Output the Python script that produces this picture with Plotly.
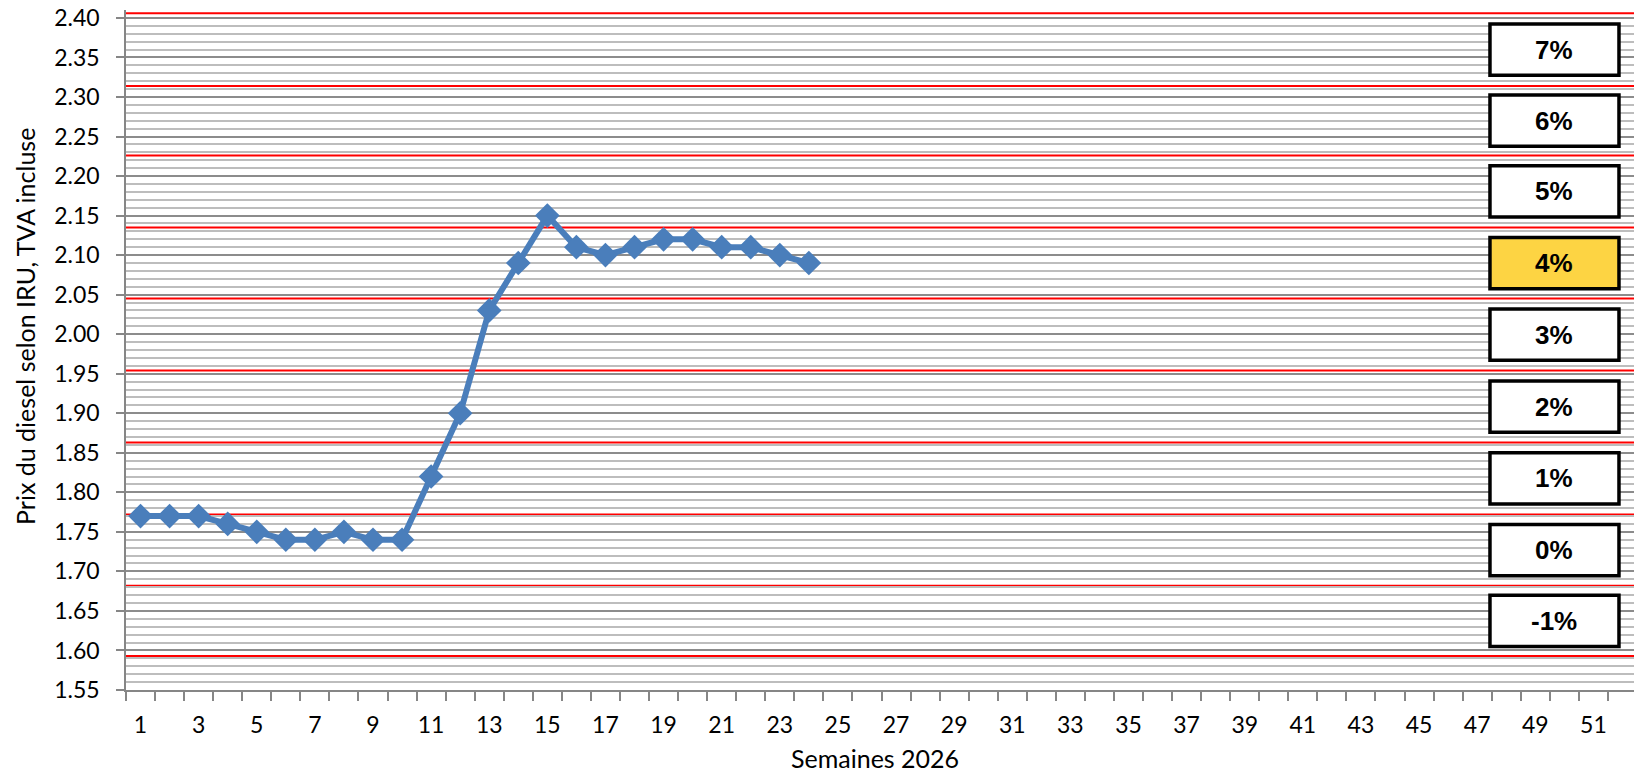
import plotly.graph_objects as go

# ---- data ----
weeks = list(range(1, 25))
prices = [1.77, 1.77, 1.77, 1.76, 1.75, 1.74, 1.74, 1.75, 1.74, 1.74,
          1.82, 1.90, 2.03, 2.09, 2.15, 2.11, 2.10, 2.11, 2.12, 2.12,
          2.11, 2.11, 2.10, 2.09]
# threshold lines (bottom to top)
red_levels = [1.593, 1.682, 1.772, 1.863, 1.954, 2.045, 2.135, 2.226, 2.314, 2.406]
# labels for bands between consecutive thresholds (bottom to top)
band_labels = ["-1%", "0%", "1%", "2%", "3%", "4%", "5%", "6%", "7%"]
band_highlight = [False, False, False, False, False, True, False, False, False]
x_tick_labels = [str(w) for w in range(1, 53, 2)]
y_title = "Prix du diesel selon IRU, TVA incluse"
x_title = "Semaines 2026"

BLUE = "#4A7EBB"
FONT = "Lato"

fig = go.Figure()
fig.add_trace(go.Scatter(
    x=weeks, y=prices, mode="lines+markers",
    line=dict(color=BLUE, width=6),
    marker=dict(symbol="diamond", size=19, color=BLUE),
    showlegend=False, hoverinfo="x+y",
))

shapes = []
for lv in red_levels:
    shapes.append(dict(type="line", xref="paper", x0=0, x1=1, yref="y", y0=lv, y1=lv,
                       line=dict(color="#FF0000", width=2), layer="between"))

annotations = []
box_x0, box_x1 = 47.44, 51.88
half_h = 0.0324
for i, lab in enumerate(band_labels):
    yc = (red_levels[i] + red_levels[i + 1]) / 2
    fill = "#FDD443" if band_highlight[i] else "white"
    shapes.append(dict(type="rect", xref="x", yref="y", x0=box_x0, x1=box_x1,
                       y0=yc - half_h, y1=yc + half_h, fillcolor=fill,
                       line=dict(color="black", width=3.5), layer="above"))
    annotations.append(dict(x=(box_x0 + box_x1) / 2, y=yc, xref="x", yref="y",
                            text="<b>%s</b>" % lab, showarrow=False,
                            font=dict(family="Liberation Sans, Arial", size=26, color="black")))

# axis titles
annotations.append(dict(text=y_title, xref="paper", yref="paper", x=-0.0668, y=0.534,
                        textangle=-90, showarrow=False, xanchor="center", yanchor="middle",
                        font=dict(family=FONT, size=25, color="black")))
annotations.append(dict(text=x_title, xref="paper", yref="paper", x=0.4955, y=-0.1,
                        showarrow=False, xanchor="center", yanchor="middle", borderpad=0,
                        font=dict(family=FONT, size=25, color="black")))

# page adds an 8px body margin, so the figure is sized/offset to compensate
fig.update_layout(
    width=1634, height=765,
    margin=dict(l=118, r=5, t=2, b=83),
    paper_bgcolor="white", plot_bgcolor="white",
    shapes=shapes, annotations=annotations,
    font=dict(family=FONT, color="black"),
    xaxis=dict(
        range=[0.5, 52.5], tickmode="array",
        tickvals=list(range(1, 53, 2)), ticktext=x_tick_labels,
        ticks="outside", ticklen=13, tickcolor="rgba(0,0,0,0)",
        showgrid=False, zeroline=False,
        showline=True, linecolor="#868686", linewidth=2,
        tickfont=dict(family=FONT, size=23, color="black"),
        ticklabeloverflow="allow",
        minor=dict(tickmode="array", tickvals=[k + 0.5 for k in range(0, 53)],
                   ticks="outside", ticklen=9, tickcolor="#868686", tickwidth=2,
                   showgrid=False),
        automargin=False,
    ),
    yaxis=dict(
        range=[1.55, 2.41], tick0=1.55, dtick=0.05, tickformat=".2f",
        ticksuffix="\u00a0\u00a0",
        ticks="outside", ticklen=8, tickcolor="#868686", tickwidth=2,
        showgrid=True, gridcolor="#8C8C8C", gridwidth=1.6,
        zeroline=False, showline=True, linecolor="#868686", linewidth=2,
        tickfont=dict(family=FONT, size=23, color="black"),
        ticklabeloverflow="allow",
        minor=dict(tick0=1.55, dtick=0.01, showgrid=True, gridcolor="#BDBDBD",
                   gridwidth=1.6, ticks=""),
        automargin=False,
    ),
)

fig.write_html("out.html")
